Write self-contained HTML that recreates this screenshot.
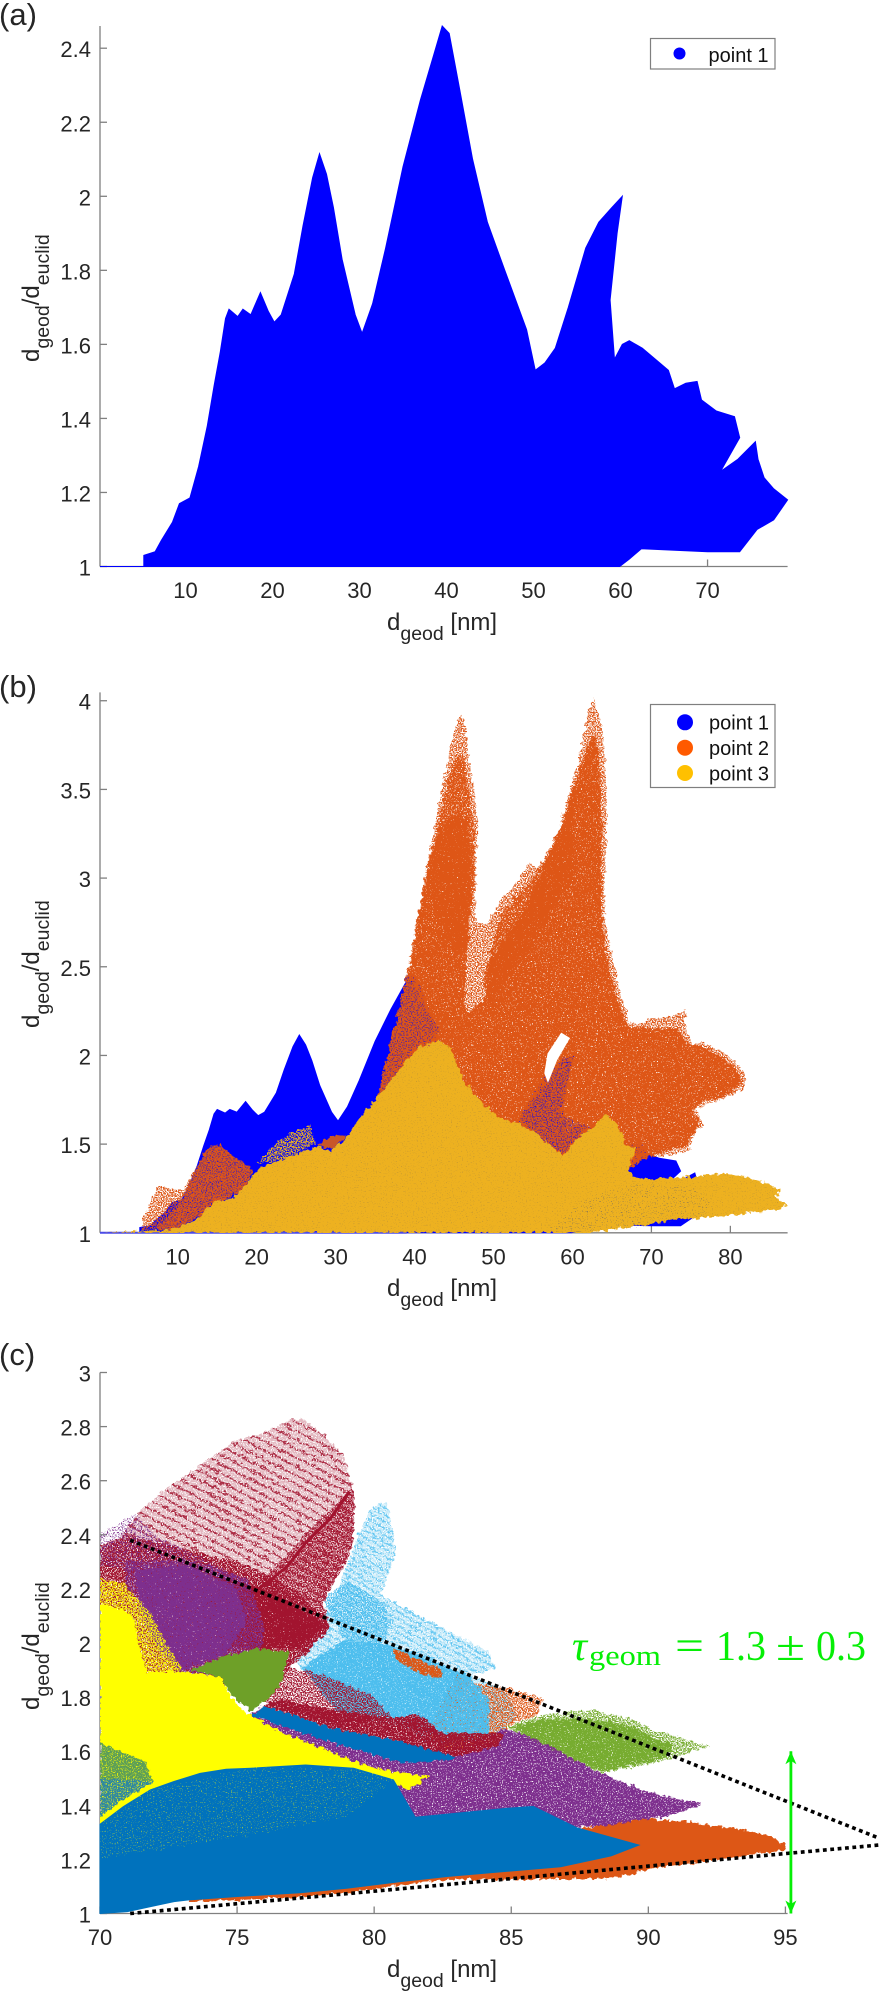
<!DOCTYPE html>
<html lang="en">
<head>
<meta charset="utf-8">
<title>Geodesic to Euclidean distance ratio charts</title>
<style>
html,body{margin:0;padding:0;background:#fff;}
svg{display:block;}
text{font-family:"Liberation Sans",sans-serif;fill:#262626;}
.pl{font-size:31px;}
.ttl{font-size:24px;}
.sub{font-size:19.5px;}
.tk{font-size:22px;}
.lg{font-size:20px;fill:#111;}
.tau{font-family:"Liberation Serif",serif;fill:#06ee06;font-size:42px;}
</style>
</head>
<body>
<svg id="fig" xmlns="http://www.w3.org/2000/svg" width="879" height="1995" viewBox="0 0 879 1995">
<defs>
<filter id="rg" x="0" y="-3%" width="104%" height="103%" color-interpolation-filters="sRGB"><feTurbulence type="fractalNoise" baseFrequency="0.22" numOctaves="2" seed="4" result="d"/><feDisplacementMap in="SourceGraphic" in2="d" scale="7" xChannelSelector="R" yChannelSelector="G"/></filter>
<filter id="sp10" x="0" y="-3%" width="104%" height="103%" color-interpolation-filters="sRGB"><feTurbulence type="fractalNoise" baseFrequency="0.22" numOctaves="2" seed="4" result="d"/><feDisplacementMap in="SourceGraphic" in2="d" scale="7" xChannelSelector="R" yChannelSelector="G" result="g"/><feTurbulence type="fractalNoise" baseFrequency="0.8" numOctaves="1" seed="11" result="n"/><feColorMatrix in="n" type="matrix" values="0 0 0 0 0 0 0 0 0 0 0 0 0 0 0 9 0 0 0 -5.6" result="m"/><feComposite in="g" in2="m" operator="in"/></filter>
<filter id="sp30" x="0" y="-3%" width="104%" height="103%" color-interpolation-filters="sRGB"><feTurbulence type="fractalNoise" baseFrequency="0.22" numOctaves="2" seed="4" result="d"/><feDisplacementMap in="SourceGraphic" in2="d" scale="7" xChannelSelector="R" yChannelSelector="G" result="g"/><feTurbulence type="fractalNoise" baseFrequency="0.8" numOctaves="1" seed="5" result="n"/><feColorMatrix in="n" type="matrix" values="0 0 0 0 0 0 0 0 0 0 0 0 0 0 0 9 0 0 0 -4.7" result="m"/><feComposite in="g" in2="m" operator="in"/></filter>
<filter id="sp60" x="0" y="-3%" width="104%" height="103%" color-interpolation-filters="sRGB"><feTurbulence type="fractalNoise" baseFrequency="0.22" numOctaves="2" seed="4" result="d"/><feDisplacementMap in="SourceGraphic" in2="d" scale="7" xChannelSelector="R" yChannelSelector="G" result="g"/><feTurbulence type="fractalNoise" baseFrequency="0.8" numOctaves="1" seed="7" result="n"/><feColorMatrix in="n" type="matrix" values="0 0 0 0 0 0 0 0 0 0 0 0 0 0 0 9 0 0 0 -3.9" result="m"/><feComposite in="g" in2="m" operator="in"/></filter>
<filter id="sp80" x="0" y="-3%" width="104%" height="103%" color-interpolation-filters="sRGB"><feTurbulence type="fractalNoise" baseFrequency="0.22" numOctaves="2" seed="4" result="d"/><feDisplacementMap in="SourceGraphic" in2="d" scale="7" xChannelSelector="R" yChannelSelector="G" result="g"/><feTurbulence type="fractalNoise" baseFrequency="0.8" numOctaves="1" seed="9" result="n"/><feColorMatrix in="n" type="matrix" values="0 0 0 0 0 0 0 0 0 0 0 0 0 0 0 9 0 0 0 -3.3" result="m"/><feComposite in="g" in2="m" operator="in"/></filter>
<filter id="sp90" x="0" y="-3%" width="104%" height="103%" color-interpolation-filters="sRGB"><feTurbulence type="fractalNoise" baseFrequency="0.22" numOctaves="2" seed="4" result="d"/><feDisplacementMap in="SourceGraphic" in2="d" scale="7" xChannelSelector="R" yChannelSelector="G" result="g"/><feTurbulence type="fractalNoise" baseFrequency="0.8" numOctaves="1" seed="2" result="n"/><feColorMatrix in="n" type="matrix" values="0 0 0 0 0 0 0 0 0 0 0 0 0 0 0 9 0 0 0 -2.7" result="m"/><feComposite in="g" in2="m" operator="in"/></filter>
<pattern id="hatchMaroon" width="10" height="8" patternUnits="userSpaceOnUse" patternTransform="rotate(27)"><rect width="10" height="8" fill="#a2142f" opacity="0.3"/><rect y="3" width="10" height="2.5" fill="#a2142f" opacity="0.85"/></pattern>
<pattern id="hatchSky" width="8" height="6" patternUnits="userSpaceOnUse" patternTransform="rotate(30)"><rect width="8" height="6" fill="#4dbeee" opacity="0.3"/><rect y="2" width="8" height="2" fill="#4dbeee" opacity="0.75"/></pattern>
</defs>

<g id="panelA">
<text class="pl" x="-1" y="25">(a)</text>
<g id="axesA"></g>
<g id="dataA"></g>
<text class="ttl" x="387" y="630">d<tspan class="sub" dy="10">geod</tspan><tspan dy="-10"> [nm]</tspan></text>
<text class="ttl" transform="translate(39,362) rotate(-90)">d<tspan class="sub" dy="10">geod</tspan><tspan dy="-10">/d</tspan><tspan class="sub" dy="10">euclid</tspan></text>
<g>
<rect x="650.5" y="38.5" width="124.5" height="30.5" fill="#fff" stroke="#7f7f7f" stroke-width="1.2"/>
<circle cx="679.5" cy="53.5" r="6" fill="#0000ff"/>
<text class="lg" x="708.5" y="62">point 1</text>
</g>
</g>

<g id="panelB">
<text class="pl" x="-1" y="697">(b)</text>
<g id="axesB"></g>
<g id="dataB"></g>
<text class="ttl" x="387" y="1296">d<tspan class="sub" dy="10">geod</tspan><tspan dy="-10"> [nm]</tspan></text>
<text class="ttl" transform="translate(39,1028) rotate(-90)">d<tspan class="sub" dy="10">geod</tspan><tspan dy="-10">/d</tspan><tspan class="sub" dy="10">euclid</tspan></text>
<g>
<rect x="650.5" y="704.5" width="124.5" height="83" fill="#fff" stroke="#7f7f7f" stroke-width="1.2"/>
<circle cx="685" cy="722.3" r="8" fill="#0000ff"/>
<text class="lg" x="709" y="729.3">point 1</text>
<circle cx="685" cy="747.7" r="8" fill="#ff5a00"/>
<text class="lg" x="709" y="755">point 2</text>
<circle cx="685" cy="773" r="8" fill="#ffc000"/>
<text class="lg" x="709" y="780.7">point 3</text>
</g>
</g>

<g id="panelC">
<text class="pl" x="-1" y="1365">(c)</text>
<g id="axesC"></g>
<g id="dataC"></g>
<text class="ttl" x="387" y="1977">d<tspan class="sub" dy="10">geod</tspan><tspan dy="-10"> [nm]</tspan></text>
<text class="ttl" transform="translate(39,1710) rotate(-90)">d<tspan class="sub" dy="10">geod</tspan><tspan dy="-10">/d</tspan><tspan class="sub" dy="10">euclid</tspan></text>
<text class="tau" y="1660"><tspan x="572" font-style="italic">τ</tspan><tspan x="589" y="1665" font-size="28" textLength="72" lengthAdjust="spacingAndGlyphs">geom</tspan><tspan x="675" y="1660" textLength="29" lengthAdjust="spacingAndGlyphs">=</tspan><tspan x="716" textLength="50" lengthAdjust="spacingAndGlyphs">1.3</tspan><tspan x="776" textLength="29" lengthAdjust="spacingAndGlyphs">±</tspan><tspan x="816" textLength="50" lengthAdjust="spacingAndGlyphs">0.3</tspan></text>
</g>

<script>
/* Axis limits and ticks */
const aXLim = [0.17, 79.2];
const aYLim = [1, 2.46];
const aXTicks = [10, 20, 30, 40, 50, 60, 70];
const aYTicks = [1, 1.2, 1.4, 1.6, 1.8, 2, 2.2, 2.4];
const bXLim = [0.16, 87.25];
const bYLim = [1, 4.047];
const bXTicks = [10, 20, 30, 40, 50, 60, 70, 80];
const bYTicks = [1, 1.5, 2, 2.5, 3, 3.5, 4];
const cXLim = [70, 95.08];
const cYLim = [1, 3];
const cXTicks = [70, 75, 80, 85, 90, 95];
const cYTicks = [1, 1.2, 1.4, 1.6, 1.8, 2, 2.2, 2.4, 2.6, 2.8, 3];

/* Point 1 envelope (panels a and b) */
const point1X = [0.17,5.2,5.2,6.5,7.2,8.5,9.3,10.5,11.5,12.5,13.3,14,14.6,15,16,16.6,17.5,18.6,19.5,20.2,21,22.5,23.5,24.6,25.4,26.2,27,28,29.5,30.3,31.5,33,35,37,38.5,39.5,40.3,41.5,43,44.7,46.7,49.2,50.2,51.3,52.5,54,56,57.5,59,60.2,59.6,58.8,59.3,60.2,61,62.5,64.5,65.5,66.2,67.5,68.8,69.3,71,73.1,73.7,71.5,73.5,75.5,75.8,76.5,77.6,79.2,77.6,75.7,73.7,70,62.4,61,59.9];
const point1Y = [1,1,1.03,1.04,1.07,1.12,1.17,1.185,1.27,1.38,1.49,1.58,1.67,1.695,1.675,1.695,1.68,1.74,1.69,1.66,1.68,1.79,1.92,2.05,2.115,2.06,1.97,1.83,1.68,1.63,1.71,1.86,2.08,2.26,2.38,2.46,2.44,2.29,2.1,1.93,1.8,1.64,1.53,1.55,1.59,1.7,1.86,1.93,1.97,2,1.9,1.72,1.56,1.6,1.61,1.59,1.55,1.53,1.48,1.495,1.5,1.45,1.42,1.405,1.348,1.257,1.29,1.337,1.29,1.24,1.21,1.18,1.126,1.1,1.04,1.04,1.048,1.02,1];
const point1BaselineX = [0.16, 39];
const point1BaselineY = [1, 1];

/* Point 2 (panel b) */
const point2OuterX = [39,40.3,41.3,42.4,43.6,44.7,45.3,45.8,46.4,46.8,47.4,48.1,47.7,47.7,49.1,51.25,52.9,54.6,55.5,56.9,58.4,59.7,61,62,62.6,63.5,64.1,64.3,64.3,64,64.1,65,66.2,67.3,68.3,70.2,72.8,74.4,74.2,75.1,76.6,78.9,81.2,82,81.6,79.5,77,75.5,76.4,76.4,75.5,74.9,75.1,72.8,70.2,68.5,67.1,60,40,34,35.2,37.7];
const point2OuterY = [2.46,2.77,3.01,3.25,3.53,3.78,3.87,3.92,3.88,3.7,3.5,3.31,3.07,2.75,2.74,2.9,2.97,3.09,3.05,3.16,3.29,3.5,3.7,3.93,4.02,3.89,3.69,3.46,3.22,2.95,2.76,2.56,2.33,2.19,2.17,2.21,2.22,2.26,2.18,2.07,2.07,2.02,1.94,1.87,1.81,1.76,1.73,1.69,1.64,1.6,1.55,1.5,1.47,1.44,1.43,1.41,1.36,1.2,1.2,1.6,1.75,2.2];
const point2MidPeakX = [41.6,43,44.2,45.3,46.3,47,47.6,47.5,47,46.6,45,42.5];
const point2MidPeakY = [3,3.3,3.55,3.7,3.68,3.45,3.25,2.95,2.75,2.55,2.6,2.8];
const point2MidShoulderX = [48.6,51,53,55,57,58.6,60.4,60,56,52,49.5];
const point2MidShoulderY = [2.42,2.8,2.9,3,3.14,3.28,3.55,3,2.7,2.45,2.3];
const point2DenseX = [39.2,40.9,42,43,44.4,45.6,46.6,47.2,47.2,46.7,46.3,47,49.1,49.3,50.8,54.2,58,60.1,61.8,62.7,63.3,63.7,63.7,64.3,65.6,67.1,73.2,74.5,76.6,78.7,80.8,81.4,80.8,79.1,76.6,75.1,76,76,75.1,74.5,70.2,67.1,60,40,34,35.2,37.7];
const point2DenseY = [2.46,2.91,3.12,3.26,3.34,3.36,3.3,3.14,2.91,2.6,2.28,2.24,2.33,2.5,2.61,2.84,3.22,3.5,3.74,3.82,3.7,3.37,2.8,2.56,2.33,2.16,2.15,2.07,2.05,2,1.92,1.86,1.82,1.77,1.74,1.69,1.64,1.6,1.55,1.49,1.44,1.37,1.2,1.2,1.6,1.75,2.2];
const point2HoleX = [58.6,59.6,58,56.9,56.5,56.9];
const point2HoleY = [2.125,2.097,1.975,1.853,1.9,2.01];
const point2LowOuterX = [5.4,5.65,7.55,10.7,12.4,13.5,15.4,17,19.6,18.3,15.8,12.8,9.5];
const point2LowOuterY = [1.015,1.09,1.26,1.24,1.37,1.47,1.5,1.43,1.355,1.24,1.185,1.09,1.015];
const point2LowInnerX = [7,9,10.7,12.4,13.5,15.4,17,19.6,18.3,15.8,12.8,9.5];
const point2LowInnerY = [1.02,1.1,1.2,1.37,1.47,1.5,1.43,1.355,1.24,1.185,1.09,1.015];
const point2PatchX = [27.6,29.7,31.4,29.7];
const point2PatchY = [1.495,1.55,1.55,1.47];
const overlapPeakX = [39,43.2,39.8,36.9,35.2,37.7];
const overlapPeakY = [2.46,2.13,2.03,1.86,1.75,2.2];
const overlapLowerX = [53.4,58.8,60.1,58.4,61.8,58.8,55];
const overlapLowerY = [1.64,1.99,1.99,1.67,1.6,1.44,1.57];

/* Point 3 (panel b) */
const point3X = [0.16,9,12.4,14.5,17.05,18.7,20.4,24.2,26.8,28,29.3,31,32.7,33.9,36,38.6,40.7,43.2,44.5,45.3,46.2,47.4,49.1,50.8,52.9,55,57.1,58.8,60.5,62.6,64.3,65.2,66.4,66.7,67.9,67.1,67.7,68.4,75.5,79.8,83.3,86.3,85.8,87.2,86.2,79.8,72.7,66.3,62];
const point3Y = [1,1.015,1.07,1.175,1.195,1.28,1.37,1.43,1.47,1.486,1.46,1.52,1.62,1.69,1.805,1.956,2.05,2.08,2.05,1.96,1.86,1.79,1.71,1.65,1.62,1.57,1.5,1.43,1.53,1.59,1.67,1.63,1.56,1.49,1.48,1.36,1.32,1.3,1.316,1.335,1.3,1.245,1.2,1.16,1.13,1.1,1.07,1.026,1];
const point3StreakX = [20,22.5,26.8,27.4,24];
const point3StreakY = [1.39,1.52,1.608,1.505,1.42];
const point3StippleX = [57,62,68,75,78,76,68,60];
const point3StippleY = [1.02,1.2,1.28,1.26,1.15,1.08,1.03,1];

/* Panel c regions */
const skyOuterX = [80.47,80.8,80.26,80.67,84.15,84.45,83.5,84.76,85.27,84.55,83.1,81.9,80.67,78.6,77.4,77,78.6,79.44,79.85];
const skyOuterY = [2.526,2.335,2.176,2.152,1.969,1.905,1.88,1.826,1.73,1.667,1.627,1.635,1.73,1.786,1.905,1.937,2.176,2.4,2.494];
const skyMidX = [78.15,79,80.34,80.58,80.34,78.9];
const skyMidY = [2.16,2.23,2.15,2.07,2,2.01];
const skyDenseX = [77.4,78.9,80.34,81.8,83.5,84.2,84.2,83,80.6,78.9,78.15];
const skyDenseY = [1.91,2.01,2,1.95,1.875,1.79,1.64,1.64,1.7,1.72,1.8];
const orangeTopX = [80.7,82.5,82.5,81.8,80.8];
const orangeTopY = [1.98,1.9,1.87,1.88,1.94];
const orangeLightX = [83,83.83,84.9,86.14,85.96,85,84.5,82.5,81.9];
const orangeLightY = [1.88,1.85,1.83,1.796,1.73,1.7,1.62,1.6,1.67];
const maroonSparseX = [71.34,72.07,72.8,73.8,74.87,76.2,76.93,77.4,78.27,78.9,79.2,79.3,79.25,79.1,78.4,78.15,78.4,77.5,76.9,76.45,75.96,74,71,70];
const maroonSparseY = [2.473,2.54,2.6,2.67,2.744,2.787,2.824,2.827,2.76,2.69,2.578,2.53,2.405,2.32,2.2,2.146,2.06,1.96,1.91,1.826,1.777,2,2.2,2.3];
const maroonMidX = [79.2,79.3,79.25,79.1,78.4,78.15,78.4,77.5,77.2,75.8,76.8,77.5,78.4];
const maroonMidY = [2.578,2.53,2.405,2.32,2.2,2.146,2.06,1.96,1.98,2.23,2.32,2.405,2.49];
const maroonRidgeX = [79.1,78.4,77.5,76.8,75.8];
const maroonRidgeY = [2.56,2.46,2.37,2.28,2.2];
const maroonBaseX = [70,71,73,75,76,77,78.15,78.4,77.5,76.9,76.45,75.96,74.4,73,71.7,70];
const maroonBaseY = [2.36,2.4,2.35,2.3,2.26,2.2,2.1,2.06,1.96,1.91,1.826,1.777,1.85,1.86,1.86,1.88];
const maroonDenseX = [73.65,75.72,76.81,78.15,77.3,75.72,74.26,73.65];
const maroonDenseY = [2.257,2.208,2.159,2.06,1.986,1.974,1.986,2.134];
const maroonSpeckX = [76,76.9,77.5,78.7,80,80.7,78.6,77];
const maroonSpeckY = [1.78,1.91,1.9,1.86,1.8,1.72,1.7,1.75];
const maroonBandX = [76.6,77.8,80.67,81.6,82.5,84.76,84.55,82.9,80.67,78.63,75.97];
const maroonBandY = [1.794,1.762,1.722,1.738,1.667,1.667,1.619,1.58,1.643,1.68,1.77];
const purpleSparseX = [70,71.3,72,74,75.5,73.6,71.7,70];
const purpleSparseY = [2.4,2.48,2.4,2.3,2.22,2.26,2.26,2.29];
const purpleHaloX = [70.9,73.1,75.4,76,75.8,74.8,72.9,71.7,71];
const purpleHaloY = [2.3,2.31,2.24,2.05,1.94,1.88,1.86,1.98,2.12];
const purpleDenseX = [71.27,73.1,74.95,75.36,74.54,72.9,72.08,71.47];
const purpleDenseY = [2.27,2.287,2.208,2.08,1.953,1.897,1.985,2.11];
const purpleWingX = [91.9,89.87,88.2,85.8,84.76,82.7,81.08,78.63,75.97,75,78,80,81.7,86,86.8,88.44,90.9];
const purpleWingY = [1.404,1.452,1.523,1.65,1.683,1.595,1.635,1.68,1.77,1.7,1.5,1.4,1.34,1.38,1.317,1.325,1.364];
const greenWingX = [92.2,91.1,90.27,89.54,87.96,86.14,84.8,86.14,88.1,88.33,89.54,90.76,91.6];
const greenWingY = [1.617,1.654,1.672,1.716,1.753,1.734,1.691,1.617,1.531,1.519,1.543,1.568,1.6];
const greenWingDenseX = [85,86.2,88,89.5,90.2,91,90.5,89.5,88.33,86.14];
const greenWingDenseY = [1.69,1.72,1.72,1.69,1.65,1.62,1.57,1.55,1.525,1.62];
const greenInnerX = [73.3,74.5,75.7,76.93,76.6,76.1,75.5,74.75,74.4];
const greenInnerY = [1.9,1.95,1.98,1.968,1.85,1.79,1.746,1.81,1.875];
const greenPatchX = [70,70.6,71.7,71.77,71.97,70];
const greenPatchY = [1.63,1.605,1.562,1.525,1.488,1.5];
const bluePatchX = [70,71.97,71,70];
const bluePatchY = [1.5,1.488,1.432,1.358];
const orangeWingX = [95.08,94.5,93.07,91.37,89.9,87.5,85,80,73.1,73.2,75.1,77.3,78.9,80.95,82.7,85.99,88.69,89.54,90.15,92.95,94.95];
const orangeWingY = [1.244,1.285,1.315,1.34,1.35,1.315,1.3,1.3,1.1,1.044,1.05,1.06,1.077,1.105,1.126,1.126,1.13,1.149,1.167,1.204,1.235];
const yellowFadeX = [70,70.9,71.83,72.4,73.04,71.7,71.4,71.2,70];
const yellowFadeY = [2.24,2.22,2.11,2,1.9,1.88,2,2.1,2.1];
const yellowMainX = [70,70.85,71.2,71.4,71.7,73.04,74.4,74.75,75.35,76.45,77.66,79,80.34,82,81.2,80.58,78.15,70];
const yellowMainY = [2.14,2.12,2.1,2,1.894,1.894,1.875,1.8,1.74,1.678,1.63,1.574,1.53,1.506,1.457,1.49,1.5,1.3];
const blueBandX = [75.97,78.63,80.67,82.9,82.9,81.08,78.63,75.56];
const blueBandY = [1.77,1.68,1.643,1.58,1.57,1.555,1.627,1.73];
const blueMainX = [70,71,72.7,73.2,74.87,77.3,79,80.95,82.7,86.8,88.64,89.66,87.4,85.8,84.76,81.5,80.7,79.25,77.5,75.5,74.6,73.65,72.7,71.83,70.85,70];
const blueMainY = [1,1.007,1.044,1.05,1.062,1.077,1.093,1.118,1.137,1.173,1.213,1.253,1.317,1.396,1.388,1.356,1.494,1.537,1.549,1.537,1.533,1.518,1.488,1.457,1.395,1.33];
const blueSpeckX = [70,71.8,75.5,79.2,80.7,79,75,71,70];
const blueSpeckY = [1.33,1.457,1.537,1.537,1.494,1.36,1.28,1.22,1.2];
const upperFitX = [71.1, 98.5];
const upperFitY = [2.38, 1.275];
const lowerFitX = [71.1, 98.5];
const lowerFitY = [1, 1.254];
const arrowX = [95.2, 95.2];
const arrowY = [1, 1.6];

const NS = "http://www.w3.org/2000/svg";
const scale = (lim, a, b) => v => a + (v - lim[0]) * (b - a) / (lim[1] - lim[0]);

function drawAxes(id, xs, ys, xLim, yLim, xTicks, yTicks, suffix) {
  const g = document.getElementById(id);
  const line = (x1, y1, x2, y2, name) => {
    const el = document.createElementNS(NS, "line");
    el.setAttribute("x1", x1);
    el.setAttribute("y1", y1);
    el.setAttribute("x2", x2);
    el.setAttribute("y2", y2);
    el.setAttribute("stroke", "#808080");
    el.setAttribute("stroke-width", "1.3");
    
    
    g.appendChild(el);
  };
  line(xs(xLim[0]), ys(yLim[0]), xs(xLim[1]), ys(yLim[0]), "x-axis-line-" + suffix);
  line(xs(xLim[0]), ys(yLim[0]), xs(xLim[0]), ys(yLim[1]), "y-axis-line-" + suffix);
  xTicks.forEach(v => {
    line(xs(v), ys(yLim[0]), xs(v), ys(yLim[0]) - 7, "x-tick-" + suffix);
    const t = document.createElementNS(NS, "text");
    t.setAttribute("class", "tk");
    t.setAttribute("x", xs(v));
    t.setAttribute("y", ys(yLim[0]) + 31.5);
    t.setAttribute("text-anchor", "middle");
    
    
    t.textContent = String(v);
    g.appendChild(t);
  });
  yTicks.forEach(v => {
    line(xs(xLim[0]), ys(v), xs(xLim[0]) + 7, ys(v), "y-tick-" + suffix);
    const t = document.createElementNS(NS, "text");
    t.setAttribute("class", "tk");
    t.setAttribute("x", 91);
    t.setAttribute("y", ys(v) + 9);
    t.setAttribute("text-anchor", "end");
    
    
    t.textContent = String(v);
    g.appendChild(t);
  });
}

function region(g, xs, ys, X, Y, fill, filter, name, op) {
  const el = document.createElementNS(NS, "polygon");
  const n = Math.min(X.length, Y.length);
  const pts = [];
  for (let i = 0; i < n; i++) pts.push(xs(X[i]).toFixed(1) + "," + ys(Y[i]).toFixed(1));
  el.setAttribute("points", pts.join(" "));
  el.setAttribute("fill", fill);
  if (filter) el.setAttribute("filter", "url(#" + filter + ")");
  else {
    el.setAttribute("stroke", fill);
    el.setAttribute("stroke-width", "1");
  }
  if (op) el.setAttribute("opacity", op);
  
  
  g.appendChild(el);
}

function stroke(g, xs, ys, X, Y, color, width, dash, name, filter) {
  const el = document.createElementNS(NS, "polyline");
  const pts = [];
  for (let i = 0; i < X.length; i++) pts.push(xs(X[i]).toFixed(1) + "," + ys(Y[i]).toFixed(1));
  el.setAttribute("points", pts.join(" "));
  el.setAttribute("fill", "none");
  el.setAttribute("stroke", color);
  el.setAttribute("stroke-width", width);
  if (dash) el.setAttribute("stroke-dasharray", dash);
  
  
  g.appendChild(el);
}

/* Panel a */
const xA = scale(aXLim, 100, 787.6);
const yA = scale(aYLim, 566.5, 26);
drawAxes("axesA", xA, yA, aXLim, aYLim, aXTicks, aYTicks, "a");
const gA = document.getElementById("dataA");
region(gA, xA, yA, point1X, point1Y, "#0000ff", null, "point-1-cloud-a");

/* Panel b */
const xB = scale(bXLim, 100, 787.6);
const yB = scale(bYLim, 1232.8, 692.4);
drawAxes("axesB", xB, yB, bXLim, bYLim, bXTicks, bYTicks, "b");
const gB = document.getElementById("dataB");
const BLUE = "#0000ff", ORG = "#de5616", GOLD = "#edb120";
region(gB, xB, yB, point1X, point1Y, BLUE, null, "point-1-cloud-b");
stroke(gB, xB, yB, point1BaselineX, point1BaselineY, "#4a4ae8", 2, null, "point-1-baseline");
region(gB, xB, yB, point2OuterX, point2OuterY, ORG, "sp60", "point-2-sparse-cloud");
region(gB, xB, yB, point2MidPeakX, point2MidPeakY, ORG, "sp80", "point-2-mid-peak");
region(gB, xB, yB, point2MidShoulderX, point2MidShoulderY, ORG, "sp80", "point-2-mid-shoulder");
region(gB, xB, yB, point2DenseX, point2DenseY, ORG, "sp90", "point-2-dense-cloud");
region(gB, xB, yB, overlapPeakX, overlapPeakY, ORG, "rg", "point-2-over-point-1-peak");
region(gB, xB, yB, overlapPeakX, overlapPeakY, BLUE, "sp30", "point-1-speckle-peak", "0.55");
region(gB, xB, yB, overlapLowerX, overlapLowerY, BLUE, "sp30", "point-1-speckle-lower", "0.55");
region(gB, xB, yB, point2HoleX, point2HoleY, "#ffffff", null, "point-2-gap");
region(gB, xB, yB, point2LowOuterX, point2LowOuterY, ORG, "sp60", "point-2-low-sparse");
region(gB, xB, yB, point2LowInnerX, point2LowInnerY, ORG, "sp90", "point-2-low-dense");
region(gB, xB, yB, point2LowInnerX, point2LowInnerY, BLUE, "sp30", "point-1-speckle-low", "0.45");
region(gB, xB, yB, point2PatchX, point2PatchY, "#c8562a", "rg", "point-2-patch");
region(gB, xB, yB, point3StreakX, point3StreakY, GOLD, "sp60", "point-3-streak");
region(gB, xB, yB, point3X, point3Y, GOLD, "rg", "point-3-cloud");
region(gB, xB, yB, point3X, point3Y, "#7b6a50", "sp10", "point-3-speckle", "0.3");
region(gB, xB, yB, point3StippleX, point3StippleY, "#5a5a70", "sp10", "point-3-stipple", "0.5");

/* Panel c */
const xC = scale(cXLim, 100, 787.6);
const yC = scale(cYLim, 1913.5, 1372.5);
drawAxes("axesC", xC, yC, cXLim, cYLim, cXTicks, cYTicks, "c");
const gC = document.getElementById("dataC");
const SKY = "#4dbeee", MAR = "#a2142f", PUR = "#7e2f8e", GRN = "#77ac30", YEL = "#ffff00", BLU = "#0072bd", OR2 = "#dd5716";
region(gC, xC, yC, skyOuterX, skyOuterY, "url(#hatchSky)", "sp80", "sky-series-sparse");
region(gC, xC, yC, skyOuterX, skyOuterY, SKY, "sp10", "sky-series-speckle");
region(gC, xC, yC, orangeLightX, orangeLightY, OR2, "sp60", "orange-series-upper-sparse");
region(gC, xC, yC, skyMidX, skyMidY, SKY, "sp60", "sky-series-mid");
region(gC, xC, yC, skyDenseX, skyDenseY, SKY, "sp90", "sky-series-dense");
region(gC, xC, yC, orangeTopX, orangeTopY, OR2, "sp90", "orange-series-top");
region(gC, xC, yC, maroonSparseX, maroonSparseY, "url(#hatchMaroon)", "sp80", "maroon-series-sparse");
region(gC, xC, yC, maroonMidX, maroonMidY, MAR, "sp60", "maroon-series-mid");
stroke(gC, xC, yC, maroonRidgeX, maroonRidgeY, MAR, 3, null, "maroon-series-ridge");
region(gC, xC, yC, maroonBaseX, maroonBaseY, MAR, "sp80", "maroon-series-base");
region(gC, xC, yC, purpleSparseX, purpleSparseY, PUR, "sp30", "purple-series-sparse");
region(gC, xC, yC, maroonDenseX, maroonDenseY, MAR, "sp90", "maroon-series-dense");
region(gC, xC, yC, maroonSpeckX, maroonSpeckY, MAR, "sp60", "maroon-series-speckle");
region(gC, xC, yC, purpleHaloX, purpleHaloY, PUR, "sp60", "purple-series-halo");
region(gC, xC, yC, purpleDenseX, purpleDenseY, PUR, "sp90", "purple-series-dense");
region(gC, xC, yC, greenWingX, greenWingY, GRN, "sp60", "green-series-wing-sparse");
region(gC, xC, yC, greenWingDenseX, greenWingDenseY, GRN, "sp90", "green-series-wing");
region(gC, xC, yC, orangeWingX, orangeWingY, OR2, "rg", "orange-series-wing");
region(gC, xC, yC, purpleWingX, purpleWingY, PUR, "sp90", "purple-series-wing");
region(gC, xC, yC, maroonBandX, maroonBandY, MAR, "sp90", "maroon-series-band");
region(gC, xC, yC, blueBandX, blueBandY, BLU, "rg", "blue-series-band");
region(gC, xC, yC, yellowFadeX, yellowFadeY, YEL, "sp60", "yellow-series-fade");
region(gC, xC, yC, yellowMainX, yellowMainY, YEL, "rg", "yellow-series-main");
region(gC, xC, yC, greenInnerX, greenInnerY, "#6ea028", "rg", "green-series-inner");
region(gC, xC, yC, blueMainX, blueMainY, BLU, null, "blue-series-main");
region(gC, xC, yC, blueSpeckX, blueSpeckY, YEL, "sp10", "yellow-speckle-in-blue", "0.6");
region(gC, xC, yC, greenPatchX, greenPatchY, "#5c9e58", "sp90", "green-series-left-patch");
region(gC, xC, yC, bluePatchX, bluePatchY, "#2f88a0", "sp90", "blue-series-left-patch");
region(gC, xC, yC, greenPatchX, greenPatchY, YEL, "sp10", "yellow-speckle-in-green");
region(gC, xC, yC, bluePatchX, bluePatchY, YEL, "sp10", "yellow-speckle-in-left-patch");

stroke(gC, xC, yC, upperFitX, upperFitY, "#000", 3.6, "3.8 3.6", "upper-fit-line");
stroke(gC, xC, yC, lowerFitX, lowerFitY, "#000", 3.6, "3.8 3.6", "lower-fit-line");
stroke(gC, xC, yC, arrowX, arrowY, "#06ee06", 2.8, null, "tau-range-arrow-shaft");
[[0, 1], [1, -1]].forEach(d => {
  const px = xC(arrowX[d[0]]);
  const py = yC(arrowY[d[0]]);
  const s = d[1];
  const head = document.createElementNS(NS, "polygon");
  head.setAttribute("points", [px, py, px - 5.5, py - s * 13, px, py - s * 9.5, px + 5.5, py - s * 13].join(" "));
  head.setAttribute("fill", "#06ee06");
  
  
  gC.appendChild(head);
});
</script>
</svg>
</body>
</html>
